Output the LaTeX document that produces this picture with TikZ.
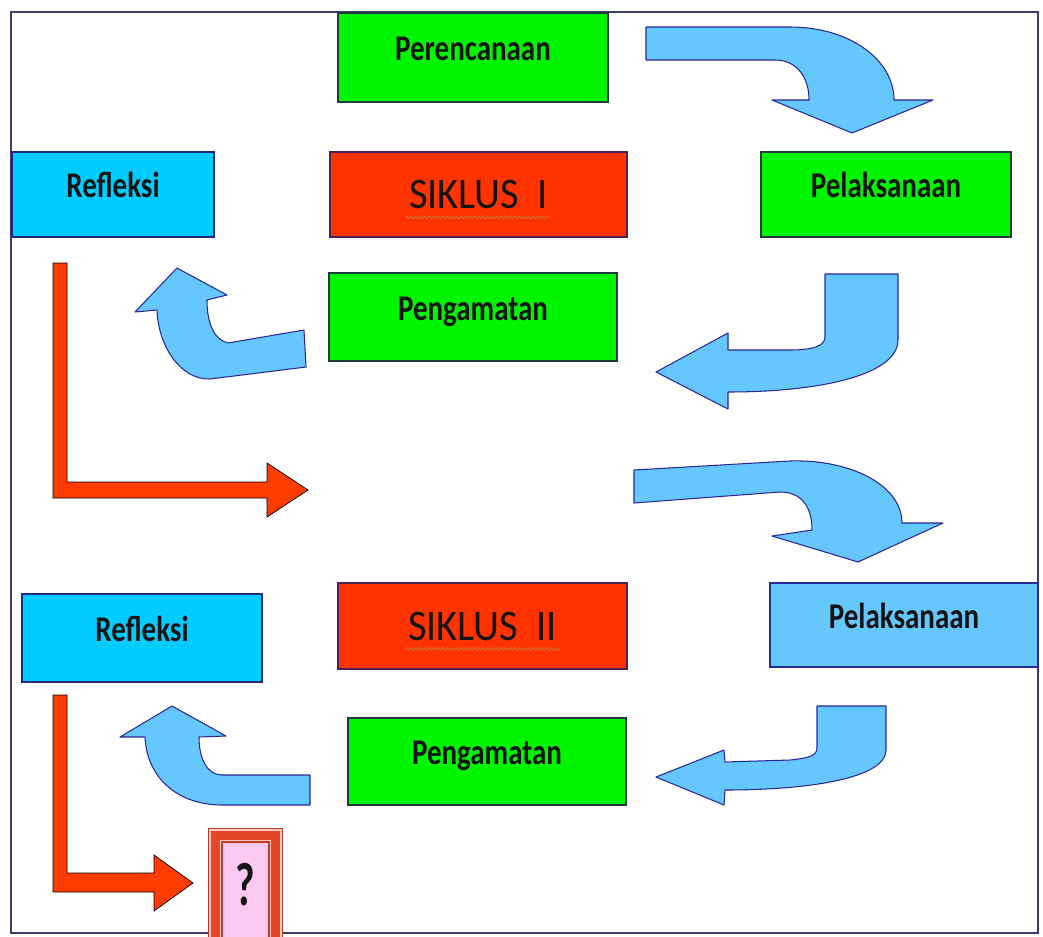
\documentclass[tikz,border=0pt]{standalone}
\usepackage{fontspec}
\setmainfont{Carlito}
\usepackage{graphicx}
\usetikzlibrary{decorations.pathmorphing}

\definecolor{boxgreen}{RGB}{0,245,0}
\definecolor{greenedge}{RGB}{30,60,60}
\definecolor{boxred}{RGB}{255,51,0}
\definecolor{rededge}{RGB}{80,30,90}
\definecolor{boxcyan}{RGB}{0,204,255}
\definecolor{cyanedge}{RGB}{30,40,130}
\definecolor{arrowblue}{RGB}{102,199,255}
\definecolor{arrowedge}{RGB}{40,40,150}
\definecolor{turnred}{RGB}{255,60,0}
\definecolor{framecol}{RGB}{60,60,110}
\definecolor{wavy}{RGB}{200,120,60}
\definecolor{labeltext}{RGB}{20,20,20}
\definecolor{qred}{RGB}{230,70,40}
\definecolor{qdark}{RGB}{190,60,40}
\definecolor{qlight}{RGB}{255,200,190}
\definecolor{qpink}{RGB}{250,200,240}

\newcommand{\stretchtext}[2]{\scalebox{1}[#1]{#2}}

\tikzset{
  box/.style={rectangle, inner sep=0pt, line width=0.8pt, text=labeltext},
  greenbox/.style={box, fill=boxgreen, draw=greenedge},
  redbox/.style={box, fill=boxred, draw=rededge},
  cyanbox/.style={box, fill=boxcyan, draw=cyanedge},
  bluebox/.style={box, fill=arrowblue, draw=arrowedge},
  word/.style={font=\fontsize{16.5}{18}\selectfont\bfseries, text height=0.5cm, text depth=0.38cm},
  siklusword/.style={font=\fontsize{23}{26}\selectfont},
  squiggle/.style={draw=wavy, line width=0.4pt, decorate,
    decoration={snake, segment length=0.09cm, amplitude=0.03cm}},
  blockarrow/.style={fill=arrowblue, draw=arrowedge, line width=0.6pt, line join=round},
  turnarrow/.style={fill=turnred},
  qbox/.style={rectangle, inner sep=0pt, minimum width=0.9cm, minimum height=2.24cm,
    text=labeltext, font=\fontsize{24}{26}\selectfont\bfseries,
    text height=0.8cm, text depth=0.56cm,
    preaction={draw=qdark, line width=0.6cm},
    preaction={draw=qlight, line width=0.56cm},
    preaction={draw=qred, line width=0.48cm},
    preaction={draw=qlight, line width=0.12cm},
    preaction={draw=qdark, line width=0.08cm},
    fill=qpink}
}

\begin{document}
\begin{tikzpicture}[x=0.02cm, y=-0.02cm]
  \clip (0,0) rectangle (1043,936);

  % Outer frame
  \draw[framecol, line width=1.2pt] (11,12) rectangle (1038,933);

  % Siklus I boxes
  \node[greenbox, word, minimum width=5.40cm, minimum height=1.78cm] (per) at (473,57.5) {\stretchtext{1.25}{Perencanaan}};
  \node[cyanbox, word, minimum width=4.04cm, minimum height=1.70cm] (ref1) at (113,194.5) {\stretchtext{1.25}{Refleksi}};
  \node[redbox, siklusword, minimum width=5.94cm, minimum height=1.70cm] (sik1) at (478.5,194.5) {\stretchtext{1.08}{SIKLUS\ \ I}};
  \node[greenbox, word, minimum width=5.00cm, minimum height=1.70cm] (pel1) at (886,194.5) {\stretchtext{1.25}{Pelaksanaan}};
  \node[greenbox, word, minimum width=5.76cm, minimum height=1.76cm] (pen1) at (473,317) {\stretchtext{1.25}{Pengamatan}};
  \draw[squiggle] ([shift={(-73,23)}]sik1.center) -- ([shift={(70,23)}]sik1.center);

  % Siklus I arrows
  \draw[blockarrow] (646,27) -- (790,27) .. controls (850,27) and (894,60) .. (894,100)
    -- (933,100) -- (852,133) -- (772,100) -- (809,100)
    .. controls (809,75) and (795,60) .. (775,60) -- (646,60) -- cycle;
  \draw[blockarrow] (825,274) -- (898,274) -- (898,340) .. controls (898,375) and (820,392) .. (728,392)
    -- (728,409) -- (656,372) -- (728,333) -- (728,350) -- (790,350)
    .. controls (815,350) and (825,345) .. (825,337) -- cycle;
  \draw[blockarrow] (304,330) -- (228,343) .. controls (215,340) and (207,325) .. (207,300)
    -- (227,295) -- (177,268) -- (135,312) -- (157,310)
    .. controls (158,345) and (180,380) .. (210,379) -- (306,367) -- cycle;
  \draw[turnarrow] (53,263) -- (67,263) -- (67,482) -- (267,482) -- (267,463) -- (308,490)
    -- (267,517) -- (267,498) -- (53,498) -- cycle;

  % Into Siklus II
  \draw[blockarrow] (634,470) -- (790,461) .. controls (850,459) and (902,485) .. (902,523)
    -- (943,523) -- (858,562) -- (772,536) -- (812,530)
    .. controls (812,505) and (800,492) .. (780,492) -- (634,503) -- cycle;

  % Siklus II boxes
  \node[cyanbox, word, minimum width=4.80cm, minimum height=1.76cm] (ref2) at (142,638) {\stretchtext{1.25}{Refleksi}};
  \node[redbox, siklusword, minimum width=5.78cm, minimum height=1.72cm] (sik2) at (482.5,626) {\stretchtext{1.08}{SIKLUS\ \ II}};
  \node[bluebox, word, minimum width=5.36cm, minimum height=1.68cm] (pel2) at (904,625) {\stretchtext{1.25}{Pelaksanaan}};
  \node[greenbox, word, minimum width=5.56cm, minimum height=1.74cm] (pen2) at (487,761.5) {\stretchtext{1.25}{Pengamatan}};
  \draw[squiggle] ([shift={(-77,23)}]sik2.center) -- ([shift={(78,23)}]sik2.center);

  % Siklus II arrows
  \draw[blockarrow] (817,706) -- (886,706) -- (886,750) .. controls (886,778) and (810,790) .. (725,790)
    -- (724,805) -- (656,777) -- (724,750) -- (725,762) -- (790,760)
    .. controls (810,758) and (817,755) .. (817,748) -- cycle;
  \draw[blockarrow] (310,775) -- (222,775) .. controls (208,775) and (199,760) .. (199,737)
    -- (226,736) -- (172,706) -- (120,737) -- (145,737)
    .. controls (147,780) and (180,805) .. (222,805) -- (310,805) -- cycle;
  \draw[turnarrow] (53,695) -- (67,695) -- (67,873) -- (154,873) -- (154,855) -- (193,883)
    -- (154,911) -- (154,892) -- (53,892) -- cycle;

  % Next cycle
  \node[qbox] (next) at (245.5,899) {\stretchtext{1.45}{?}};
\end{tikzpicture}
\end{document}
